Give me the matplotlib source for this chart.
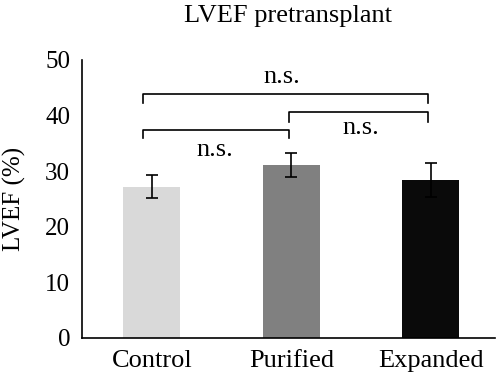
import matplotlib
matplotlib.use('Agg')
import matplotlib.pyplot as plt

groups = ['Control', 'Purified', 'Expanded']
lvef = [27.2, 31.1, 28.4]
sem = [2.1, 2.2, 3.0]
bar_colors = ['#d9d9d9', '#808080', '#0a0a0a']

# significance brackets: (x_left, x_right, height, leg_drop, label, label_x, label_y)
brackets = [
    (-0.06, 1.98, 43.9, 1.6, 'n.s.', 0.935, 47.0),
    (-0.06, 0.985, 37.4, 1.4, 'n.s.', 0.45, 33.8),
    (0.985, 1.98, 40.7, 1.8, 'n.s.', 1.5, 37.7),
]

plt.rcParams['font.family'] = ['Liberation Serif', 'DejaVu Serif']

fig = plt.figure(figsize=(5, 3.81), dpi=100)
ax = fig.add_axes([0.164, 0.113, 0.826, 0.730])

x = range(len(groups))
ax.bar(x, lvef, width=0.41, color=bar_colors, zorder=2)
ax.errorbar(x, lvef, yerr=sem, fmt='none', ecolor='black', elinewidth=1.2,
            capsize=4, capthick=1.2, zorder=3)

for x0, x1, h, d, lab, lx, ly in brackets:
    ax.plot([x0, x0, x1, x1], [h - d, h, h, h - d], color='black', lw=1.2,
            clip_on=False, zorder=4)
    ax.text(lx, ly, lab, ha='center', va='center', fontsize=19)

ax.set_xlim(-0.5, 2.46)
ax.set_ylim(0, 50)
ax.set_yticks([0, 10, 20, 30, 40, 50])
ax.set_xticks(list(x))
ax.set_xticklabels(groups)
ax.tick_params(axis='y', length=0, labelsize=18, pad=8.5)
ax.tick_params(axis='x', length=0, labelsize=19, pad=9)
ax.spines['top'].set_visible(False)
ax.spines['right'].set_visible(False)
ax.spines['left'].set_linewidth(1.2)
ax.spines['bottom'].set_linewidth(1.2)
ax.set_ylabel('LVEF (%)', fontsize=18)
ax.yaxis.set_label_coords(-0.136, 0.5)
ax.set_title('LVEF pretransplant', fontsize=19, pad=27)

fig.savefig('out.png', dpi=100)
